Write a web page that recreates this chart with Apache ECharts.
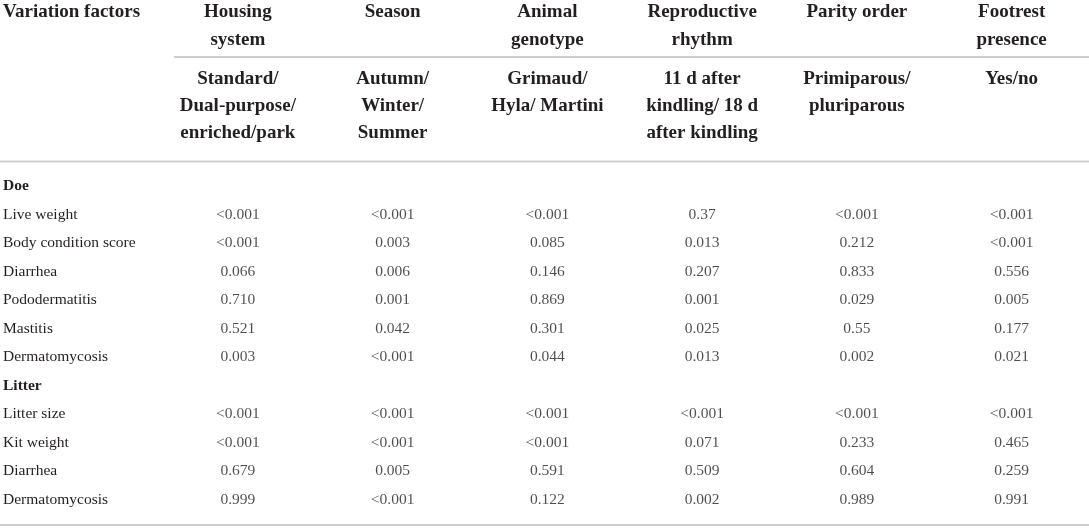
<!DOCTYPE html>
<html>
<head>
<meta charset="utf-8">
<title>Variation factors</title>
<script src="https://cdn.jsdelivr.net/npm/echarts@6/dist/echarts.min.js"></script>
<style>
    html, body {margin: 0; padding: 0; background: #fff;}
    #chart {width: 1089px; height: 529px;}
</style>
</head>
<body>
<div id="chart"></div>
<script>
const stubTitle = 'Variation factors'

const factors = ['Housing\nsystem', 'Season', 'Animal\ngenotype', 'Reproductive\nrhythm', 'Parity order', 'Footrest\npresence']
const levels = ['Standard/\nDual-purpose/\nenriched/park', 'Autumn/\nWinter/\nSummer', 'Grimaud/\nHyla/ Martini',
    '11 d after\nkindling/ 18 d\nafter kindling', 'Primiparous/\npluriparous', 'Yes/no']

const rowLabels = ['Doe', 'Live weight', 'Body condition score', 'Diarrhea', 'Pododermatitis', 'Mastitis', 'Dermatomycosis',
    'Litter', 'Litter size', 'Kit weight', 'Diarrhea', 'Dermatomycosis']
const sectionRows = [0, 7]

// p-values, one list per factor, in row order (null = section heading row)
const housing = [null, '<0.001', '<0.001', '0.066', '0.710', '0.521', '0.003', null, '<0.001', '<0.001', '0.679', '0.999']
const season = [null, '<0.001', '0.003', '0.006', '0.001', '0.042', '<0.001', null, '<0.001', '<0.001', '0.005', '<0.001']
const genotype = [null, '<0.001', '0.085', '0.146', '0.869', '0.301', '0.044', null, '<0.001', '<0.001', '0.591', '0.122']
const rhythm = [null, '0.37', '0.013', '0.207', '0.001', '0.025', '0.013', null, '<0.001', '0.071', '0.509', '0.002']
const parity = [null, '<0.001', '0.212', '0.833', '0.029', '0.55', '0.002', null, '<0.001', '0.233', '0.604', '0.989']
const footrest = [null, '<0.001', '<0.001', '0.556', '0.005', '0.177', '0.021', null, '<0.001', '0.465', '0.259', '0.991']

const columns = [housing, season, genotype, rhythm, parity, footrest]

const FONT = '"Liberation Serif", "DejaVu Serif", serif'
const INK = '#231f20'
const RULE = '#cfcfcf'

const cells = []
columns.forEach((col, ci) => {
    col.forEach((v, ri) => {
        if (v !== null) cells.push([ci, ri, v])
    })
})

const chart = echarts.init(document.getElementById('chart'), null, {renderer: 'canvas'})

chart.setOption({
    animation: false,
    grid: {left: 160.5, width: 942, top: 171.75, height: 342},
    xAxis: {
        type: 'category',
        data: factors,
        axisLine: {show: false},
        axisTick: {show: false},
        axisLabel: {show: false},
        splitLine: {show: false}
    },
    yAxis: {
        type: 'category',
        data: rowLabels,
        inverse: true,
        axisLine: {show: false},
        axisTick: {show: false},
        splitLine: {show: false},
        axisLabel: {
            interval: 0,
            align: 'left',
            margin: 157.5,
            color: INK,
            fontFamily: FONT,
            fontSize: 15.5,
            formatter: (val, idx) => sectionRows.includes(idx) ? '{b|' + val + '}' : val,
            rich: {
                b: {fontWeight: 'bold', fontFamily: FONT, fontSize: 15.5, color: INK}
            }
        }
    },
    series: [{
        type: 'scatter',
        data: cells,
        symbolSize: 1,
        itemStyle: {color: 'rgba(0,0,0,0)'},
        label: {
            show: true,
            position: 'inside',
            formatter: p => p.value[2],
            color: INK,
            fontFamily: FONT,
            fontSize: 15.5
        }
    }]
})

// header text sits over the same column scale as the body
const headText = (text, x, y, align, lineHeight) => ({
    type: 'text',
    x: x,
    y: y,
    silent: true,
    style: {
        text: text,
        fill: INK,
        font: 'bold 19px ' + FONT,
        align: align,
        verticalAlign: 'top',
        lineHeight: lineHeight
    }
})

const rule = (x1, x2, y) => ({
    type: 'line',
    silent: true,
    shape: {x1: x1, y1: y, x2: x2, y2: y},
    style: {stroke: RULE, lineWidth: 2}
})

const graphics = [headText(stubTitle, 3, -2, 'left', 28)]
factors.forEach((f, i) => {
    const x = chart.convertToPixel({xAxisIndex: 0}, i)
    graphics.push(headText(f, x, -2, 'center', 28))
    graphics.push(headText(levels[i], x, 65.5, 'center', 27))
})
graphics.push(rule(174, 1089, 57))
graphics.push(rule(0, 1089, 161.5))
graphics.push(rule(0, 1089, 525))

chart.setOption({graphic: graphics})
</script>
</body>
</html>
